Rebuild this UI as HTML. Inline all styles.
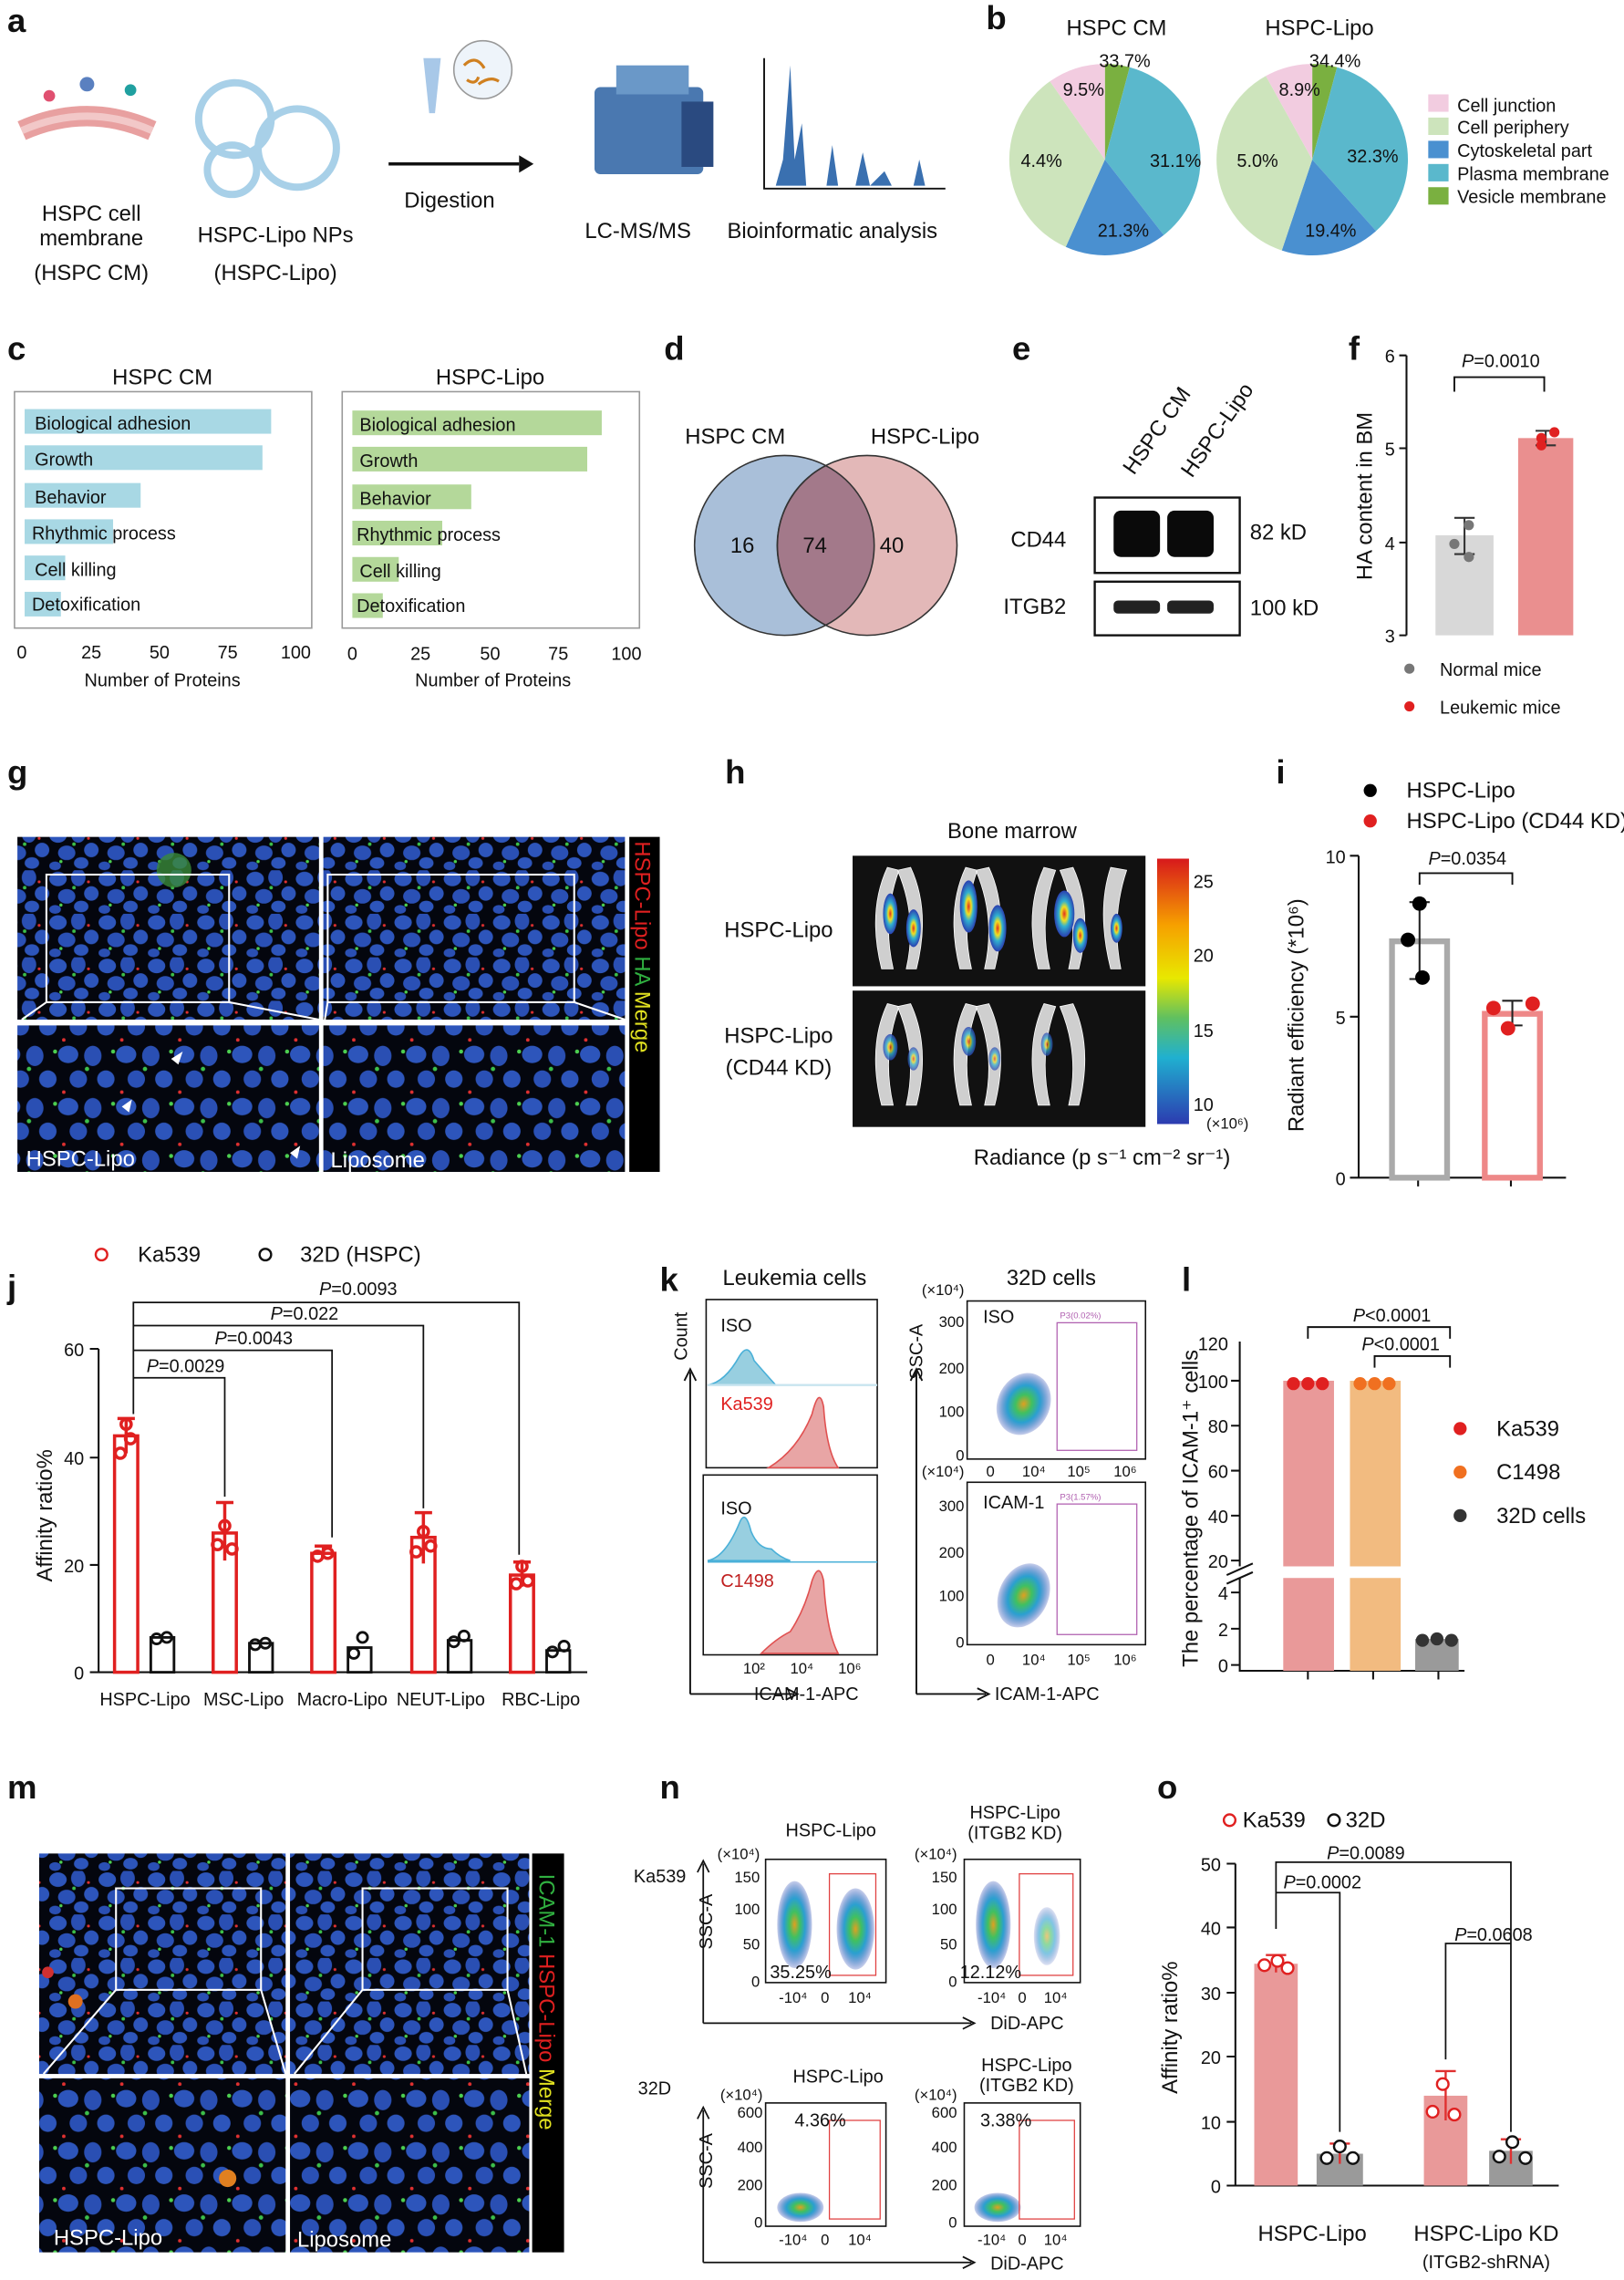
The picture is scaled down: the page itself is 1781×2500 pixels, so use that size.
<!DOCTYPE html>
<html><head><meta charset="utf-8"><style>
html,body{margin:0;padding:0;background:#fff}
svg{display:block}
text{font-family:"Liberation Sans",Arial,sans-serif;fill:#111}
.L{font-size:23px;font-weight:bold}
.t{font-size:15px}
.s{font-size:12.5px}
.xs{font-size:10.5px}
</style></head><body>
<svg width="1781" height="2500" viewBox="0 0 1120 1572" xmlns="http://www.w3.org/2000/svg">
<defs>
<pattern id="cells" width="34" height="30" patternUnits="userSpaceOnUse">
<rect width="34" height="30" fill="#04060e"/>
<ellipse cx="6" cy="6" rx="6" ry="5" fill="#2d55bb"/><ellipse cx="20" cy="5" rx="5" ry="6" fill="#2a4fb3"/>
<ellipse cx="29" cy="16" rx="5" ry="5" fill="#2d55bb"/><ellipse cx="12" cy="18" rx="6" ry="5" fill="#2a50b5"/>
<ellipse cx="22" cy="25" rx="5" ry="4" fill="#2d55bb"/><ellipse cx="4" cy="27" rx="4" ry="3" fill="#2a4fb3"/>
<circle cx="17" cy="12" r="1.2" fill="#3cbf4a"/><circle cx="27" cy="8" r="1" fill="#e03030"/><circle cx="8" cy="24" r="1.1" fill="#4ccf50"/>
</pattern>
<pattern id="cells2" width="40" height="36" patternUnits="userSpaceOnUse">
<rect width="40" height="36" fill="#04060e"/>
<ellipse cx="7" cy="7" rx="7" ry="6" fill="#2d55bb"/><ellipse cx="24" cy="8" rx="6" ry="7" fill="#2a4fb3"/>
<ellipse cx="33" cy="24" rx="6" ry="6" fill="#2d55bb"/><ellipse cx="14" cy="24" rx="6" ry="6" fill="#2a50b5"/>
<circle cx="20" cy="17" r="1.5" fill="#3cbf4a"/><circle cx="4" cy="33" r="1.2" fill="#e03030"/><circle cx="38" cy="5" r="1.4" fill="#4ccf50"/>
</pattern>
<linearGradient id="cbar" x1="0" y1="0" x2="0" y2="1">
<stop offset="0" stop-color="#d7191c"/><stop offset=".25" stop-color="#f6a000"/><stop offset=".45" stop-color="#e8e800"/><stop offset=".6" stop-color="#60c060"/><stop offset=".75" stop-color="#20b0d0"/><stop offset="1" stop-color="#2c3bb0"/>
</linearGradient>
<radialGradient id="dots"><stop offset="0" stop-color="#e0a020"/><stop offset=".3" stop-color="#40c060"/><stop offset=".6" stop-color="#2aa0d0"/><stop offset="1" stop-color="#2040b0" stop-opacity=".25"/></radialGradient>
<radialGradient id="bone"><stop offset="0" stop-color="#e03020"/><stop offset=".3" stop-color="#f0e020"/><stop offset=".55" stop-color="#30b0d0"/><stop offset="1" stop-color="#2a40b0"/></radialGradient>
</defs>

<!-- a -->
<text class="L" x="5" y="22">a</text>
<path d="M15 90 Q60 70 105 90" stroke="#e8a0a0" stroke-width="14" fill="none"/>
<path d="M15 90 Q60 70 105 90" stroke="#f2c8c8" stroke-width="5" fill="none"/>
<circle cx="34" cy="66" r="4" fill="#e05070"/><circle cx="60" cy="58" r="5" fill="#5a80c0"/><circle cx="90" cy="62" r="4" fill="#20a0a0"/>
<text class="t" x="63" y="152" text-anchor="middle">HSPC cell</text>
<text class="t" x="63" y="169" text-anchor="middle">membrane</text>
<text class="t" x="63" y="193" text-anchor="middle">(HSPC CM)</text>
<circle cx="162" cy="82" r="25" fill="none" stroke="#a8d0e8" stroke-width="5"/>
<circle cx="205" cy="102" r="27" fill="none" stroke="#a8d0e8" stroke-width="5"/>
<circle cx="160" cy="117" r="17" fill="none" stroke="#a8d0e8" stroke-width="5"/>
<text class="t" x="190" y="167" text-anchor="middle">HSPC-Lipo NPs</text>
<text class="t" x="190" y="193" text-anchor="middle">(HSPC-Lipo)</text>
<path d="M292 40 l12 0 l-4 38 l-4 0z" fill="#a8c8e8"/>
<circle cx="333" cy="48" r="20" fill="#eef4fa" stroke="#999"/>
<path d="M320 45 q8 -8 14 2 M330 58 q8 -6 14 -2 M322 55 q6 4 8 -2" stroke="#d08020" stroke-width="2" fill="none"/>
<path d="M268 113 L358 113" stroke="#111" stroke-width="2.2"/><path d="M358 107 L368 113 L358 119z" fill="#111"/>
<text class="t" x="310" y="143" text-anchor="middle">Digestion</text>
<rect x="410" y="60" width="75" height="60" rx="4" fill="#4a78b0"/><rect x="425" y="45" width="50" height="20" fill="#6a98c8"/><rect x="470" y="70" width="22" height="45" fill="#2a4a80"/>
<text class="t" x="440" y="164" text-anchor="middle">LC-MS/MS</text>
<path d="M527 40 L527 130 L652 130" stroke="#111" fill="none" stroke-width="1.2"/>
<path d="M535 128 L540 110 L545 45 L548 110 L553 85 L556 128 L570 128 L574 100 L578 128 L590 128 L595 105 L600 128 L610 118 L615 128 L630 128 L634 110 L638 128z" fill="#3a70b0"/>
<text class="t" x="574" y="164" text-anchor="middle">Bioinformatic analysis</text>

<!-- b -->
<text class="L" x="680" y="20">b</text>
<text class="t" x="770" y="24" text-anchor="middle" font-size="16">HSPC CM</text>
<text class="t" x="910" y="24" text-anchor="middle" font-size="16">HSPC-Lipo</text>
<g transform="translate(762,110)">
<path d="M0 0 L0 -66 A66 66 0 0 1 17.1 -63.7z" fill="#7ab040"/>
<path d="M0 0 L17.1 -63.7 A66 66 0 0 1 40.6 52z" fill="#5ab8cc"/>
<path d="M0 0 L40.6 52 A66 66 0 0 1 -27 60.2z" fill="#4a90d0"/>
<path d="M0 0 L-27 60.2 A66 66 0 0 1 -37.9 -54z" fill="#cde4bc"/>
<path d="M0 0 L-37.9 -54 A66 66 0 0 1 0 -66z" fill="#f2cce0"/>
</g>
<g transform="translate(905,110)">
<path d="M0 0 L0 -66 A66 66 0 0 1 17.1 -63.7z" fill="#7ab040"/>
<path d="M0 0 L17.1 -63.7 A66 66 0 0 1 44 49.2z" fill="#5ab8cc"/>
<path d="M0 0 L44 49.2 A66 66 0 0 1 -21 62.6z" fill="#4a90d0"/>
<path d="M0 0 L-21 62.6 A66 66 0 0 1 -32 -57.7z" fill="#cde4bc"/>
<path d="M0 0 L-32 -57.7 A66 66 0 0 1 0 -66z" fill="#f2cce0"/>
</g>
<g class="s"><text x="758" y="46">33.7%</text><text x="733" y="66">9.5%</text><text x="704" y="115">4.4%</text><text x="793" y="115">31.1%</text><text x="757" y="163">21.3%</text>
<text x="903" y="46">34.4%</text><text x="882" y="66">8.9%</text><text x="853" y="115">5.0%</text><text x="929" y="112">32.3%</text><text x="900" y="163">19.4%</text></g>
<g class="s"><rect x="985" y="65" width="14" height="12" fill="#f2cce0"/><text x="1005" y="77">Cell junction</text>
<rect x="985" y="81" width="14" height="12" fill="#cde4bc"/><text x="1005" y="92">Cell periphery</text>
<rect x="985" y="97" width="14" height="12" fill="#4a90d0"/><text x="1005" y="108">Cytoskeletal part</text>
<rect x="985" y="113" width="14" height="12" fill="#5ab8cc"/><text x="1005" y="124">Plasma membrane</text>
<rect x="985" y="129" width="14" height="12" fill="#7ab040"/><text x="1005" y="140">Vesicle membrane</text></g>

<!-- c -->
<text class="L" x="5" y="248">c</text>
<text class="t" x="112" y="265" text-anchor="middle" font-size="16">HSPC CM</text>
<text class="t" x="338" y="265" text-anchor="middle" font-size="16">HSPC-Lipo</text>
<rect x="10" y="270" width="205" height="163" fill="none" stroke="#999"/>
<rect x="236" y="270" width="205" height="163" fill="none" stroke="#999"/>
<g fill="#a8d8e4"><rect x="17" y="282" width="170" height="17"/><rect x="17" y="307" width="164" height="17"/><rect x="17" y="333" width="80" height="17"/><rect x="17" y="358" width="61" height="17"/><rect x="17" y="383" width="28" height="17"/><rect x="17" y="408" width="25" height="17"/></g>
<g fill="#b4d89a"><rect x="243" y="283" width="172" height="17"/><rect x="243" y="308" width="162" height="17"/><rect x="243" y="334" width="82" height="17"/><rect x="243" y="359" width="62" height="17"/><rect x="243" y="384" width="32" height="17"/><rect x="243" y="409" width="21" height="17"/></g>
<g class="s"><text x="24" y="296">Biological adhesion</text><text x="24" y="321">Growth</text><text x="24" y="347">Behavior</text><text x="22" y="372">Rhythmic process</text><text x="24" y="397">Cell killing</text><text x="22" y="421">Detoxification</text>
<text x="248" y="297">Biological adhesion</text><text x="248" y="322">Growth</text><text x="248" y="348">Behavior</text><text x="246" y="373">Rhythmic process</text><text x="248" y="398">Cell killing</text><text x="246" y="422">Detoxification</text></g>
<g class="s" text-anchor="middle"><text x="15" y="454">0</text><text x="63" y="454">25</text><text x="110" y="454">50</text><text x="157" y="454">75</text><text x="204" y="454">100</text>
<text x="243" y="455">0</text><text x="290" y="455">25</text><text x="338" y="455">50</text><text x="385" y="455">75</text><text x="432" y="455">100</text>
<text x="112" y="473">Number of Proteins</text><text x="340" y="473">Number of Proteins</text></g>

<!-- d -->
<text class="L" x="458" y="248">d</text>
<text class="t" x="507" y="306" text-anchor="middle" font-size="16">HSPC CM</text>
<text class="t" x="638" y="306" text-anchor="middle" font-size="16">HSPC-Lipo</text>
<circle cx="541" cy="376" r="62" fill="#a9bfd9" stroke="#333"/>
<circle cx="598" cy="376" r="62" fill="#e3b8b8" stroke="#333"/>
<path d="M569.5 321 A62 62 0 0 1 569.5 431 A62 62 0 0 1 569.5 321z" fill="#a3798a" stroke="#333"/>
<g class="t" text-anchor="middle"><text x="512" y="381">16</text><text x="562" y="381">74</text><text x="615" y="381">40</text></g>

<!-- e -->
<text class="L" x="698" y="248">e</text>
<text class="t" transform="translate(782,328) rotate(-55)">HSPC CM</text>
<text class="t" transform="translate(822,330) rotate(-55)">HSPC-Lipo</text>
<rect x="755" y="343" width="100" height="52" fill="#fff" stroke="#111" stroke-width="1.5"/>
<rect x="768" y="352" width="32" height="32" rx="5" fill="#0a0a0a"/><rect x="805" y="352" width="32" height="32" rx="5" fill="#0a0a0a"/>
<rect x="755" y="401" width="100" height="37" fill="#fff" stroke="#111" stroke-width="1.5"/>
<rect x="768" y="414" width="32" height="9" rx="3" fill="#222"/><rect x="805" y="414" width="32" height="9" rx="3" fill="#222"/>
<text class="t" x="697" y="377" font-size="16">CD44</text><text class="t" x="692" y="423" font-size="16">ITGB2</text>
<text class="t" x="862" y="372">82 kD</text><text class="t" x="862" y="424">100 kD</text>

<!-- f -->
<text class="L" x="930" y="248">f</text>
<path d="M970 245 V438 M965 245 H970 M965 309 H970 M965 374 H970 M965 438 H970" stroke="#111" stroke-width="1.3" fill="none"/>
<g class="s" text-anchor="end"><text x="962" y="250">6</text><text x="962" y="314">5</text><text x="962" y="379">4</text><text x="962" y="443">3</text></g>
<text class="t" transform="translate(946,342) rotate(-90)" text-anchor="middle">HA content in BM</text>
<rect x="990" y="369" width="40" height="69" fill="#d8d8d8"/>
<rect x="1047" y="302" width="38" height="136" fill="#ea8f8f"/>
<path d="M1010 357 V382 M1003 357 H1017 M1003 382 H1017 M1066 297 V307 M1059 297 H1073 M1059 307 H1073" stroke="#333" stroke-width="1.3"/>
<circle cx="1013" cy="362" r="3.5" fill="#777"/><circle cx="1003" cy="375" r="3.5" fill="#777"/><circle cx="1013" cy="384" r="3.5" fill="#777"/>
<circle cx="1063" cy="302" r="3.5" fill="#e02020"/><circle cx="1072" cy="298" r="3.5" fill="#e02020"/><circle cx="1063" cy="307" r="3.5" fill="#e02020"/>
<path d="M1003 270 V260 H1065 V270" stroke="#111" fill="none" stroke-width="1.2"/>
<text class="s" x="1035" y="253" text-anchor="middle"><tspan font-style="italic">P</tspan>=0.0010</text>
<circle cx="972" cy="461" r="3.5" fill="#777"/><text class="s" x="993" y="466">Normal mice</text>
<circle cx="972" cy="487" r="3.5" fill="#e02020"/><text class="s" x="993" y="492">Leukemic mice</text>

<!-- g -->
<text class="L" x="5" y="540">g</text>
<rect x="12" y="577" width="208" height="126" fill="url(#cells)"/>
<rect x="223" y="577" width="208" height="126" fill="url(#cells)"/>
<rect x="12" y="707" width="208" height="101" fill="url(#cells2)"/>
<rect x="223" y="707" width="208" height="101" fill="url(#cells2)"/>
<circle cx="120" cy="600" r="12" fill="#3a8a3a" opacity=".8"/>
<rect x="32" y="603" width="126" height="88" fill="none" stroke="#fff" stroke-width="1.3"/>
<rect x="226" y="603" width="170" height="88" fill="none" stroke="#fff" stroke-width="1.3"/>
<path d="M32 691 L15 703 M158 691 L220 703 M226 691 L224 703 M396 691 L431 703" stroke="#fff" stroke-width="1.3"/>
<path d="M118 730 l8 -5 l-3 9z M84 763 l7 -5 l-2 9z M200 795 l7 -5 l-2 9z" fill="#fff"/>
<text class="t" x="18" y="804" style="fill:#fff">HSPC-Lipo</text><text class="t" x="228" y="805" style="fill:#fff">Liposome</text>
<rect x="434" y="577" width="21" height="231" fill="#000"/>
<text class="t" transform="translate(438,580) rotate(90)" font-size="16"><tspan style="fill:#e02020">HSPC-Lipo </tspan><tspan style="fill:#30b040">HA </tspan><tspan style="fill:#e0e020">Merge</tspan></text>

<!-- h -->
<text class="L" x="500" y="540">h</text>
<text class="t" x="698" y="578" text-anchor="middle" font-size="16">Bone marrow</text>
<rect x="588" y="590" width="202" height="90" fill="#111"/>
<rect x="588" y="683" width="202" height="94" fill="#111"/>
<g fill="#cfcfcf" stroke="#fff" stroke-width=".5">
<path d="M612 598 q-14 30 -4 70 l8 0 q-8 -35 4 -68z M628 598 q14 30 4 70 l-7 0 q8 -35 -6 -68z M666 598 q-14 30 -4 70 l8 0 q-8 -35 4 -68z M682 598 q14 30 4 70 l-7 0 q8 -35 -6 -68z M720 598 q-14 30 -4 70 l8 0 q-8 -35 4 -68z M740 598 q14 30 4 70 l-7 0 q8 -35 -6 -68z M766 598 q-10 30 0 70 l7 0 q-7 -35 4 -68z"/>
<path d="M612 692 q-14 30 -4 70 l8 0 q-8 -35 4 -68z M628 692 q14 30 4 70 l-7 0 q8 -35 -6 -68z M666 692 q-14 30 -4 70 l8 0 q-8 -35 4 -68z M682 692 q14 30 4 70 l-7 0 q8 -35 -6 -68z M720 692 q-14 30 -4 70 l8 0 q-8 -35 4 -68z M740 692 q14 30 4 70 l-7 0 q8 -35 -6 -68z"/>
</g>
<g fill="url(#bone)"><ellipse cx="614" cy="630" rx="5" ry="14"/><ellipse cx="630" cy="640" rx="5" ry="13"/><ellipse cx="668" cy="625" rx="6" ry="18"/><ellipse cx="688" cy="640" rx="6" ry="16"/><ellipse cx="734" cy="630" rx="7" ry="16"/><ellipse cx="745" cy="645" rx="5" ry="12"/><ellipse cx="770" cy="640" rx="4" ry="10"/>
<ellipse cx="614" cy="722" rx="5" ry="9" opacity=".8"/><ellipse cx="630" cy="730" rx="4" ry="8" opacity=".7"/><ellipse cx="668" cy="718" rx="5" ry="10" opacity=".8"/><ellipse cx="686" cy="730" rx="4" ry="8" opacity=".7"/><ellipse cx="722" cy="720" rx="4" ry="8" opacity=".7"/></g>
<text class="t" x="537" y="646" text-anchor="middle" font-size="16">HSPC-Lipo</text>
<text class="t" x="537" y="719" text-anchor="middle" font-size="16">HSPC-Lipo</text>
<text class="t" x="537" y="741" text-anchor="middle" font-size="16">(CD44 KD)</text>
<rect x="798" y="592" width="22" height="183" fill="url(#cbar)"/>
<g class="s"><text x="823" y="612">25</text><text x="823" y="663">20</text><text x="823" y="715">15</text><text x="823" y="766">10</text><text x="832" y="778" class="xs">(×10⁶)</text></g>
<text class="t" x="760" y="803" text-anchor="middle">Radiance (p s⁻¹ cm⁻² sr⁻¹)</text>

<!-- i -->
<text class="L" x="880" y="540">i</text>
<circle cx="945" cy="545" r="4.5" fill="#000"/><text class="t" x="970" y="550" font-size="14">HSPC-Lipo</text>
<circle cx="945" cy="566" r="4.5" fill="#e02020"/><text class="t" x="970" y="571" font-size="14">HSPC-Lipo (CD44 KD)</text>
<path d="M937 590 V812 M931 590 H937 M931 701 H937 M931 812 H937 M937 812 H1080 M978 812 v6 M1042 812 v6" stroke="#111" stroke-width="1.3" fill="none"/>
<g class="s" text-anchor="end"><text x="928" y="595">10</text><text x="928" y="706">5</text><text x="928" y="817">0</text></g>
<text class="t" transform="translate(899,700) rotate(-90)" text-anchor="middle" font-size="16">Radiant efficiency (*10⁶)</text>
<rect x="960" y="649" width="38" height="163" fill="none" stroke="#aaa" stroke-width="4"/>
<rect x="1024" y="699" width="38" height="113" fill="none" stroke="#e88" stroke-width="4"/>
<path d="M979 622 V675 M972 622 H986 M972 675 H986 M1043 690 V707 M1036 690 H1050 M1036 707 H1050" stroke="#222" stroke-width="1.3"/>
<circle cx="979" cy="623" r="5" fill="#000"/><circle cx="971" cy="648" r="5" fill="#000"/><circle cx="981" cy="674" r="5" fill="#000"/>
<circle cx="1040" cy="709" r="5" fill="#e02020"/><circle cx="1030" cy="695" r="5" fill="#e02020"/><circle cx="1057" cy="692" r="5" fill="#e02020"/>
<path d="M979 610 V602 H1043 V610" stroke="#111" fill="none" stroke-width="1.2"/>
<text class="s" x="1012" y="596" text-anchor="middle"><tspan font-style="italic">P</tspan>=0.0354</text>

<!-- j -->
<text class="L" x="5" y="895">j</text>
<circle cx="70" cy="865" r="4" fill="none" stroke="#e02020" stroke-width="1.5"/><text class="t" x="95" y="870">Ka539</text>
<circle cx="183" cy="865" r="4" fill="none" stroke="#111" stroke-width="1.5"/><text class="t" x="207" y="870">32D (HSPC)</text>
<path d="M68 930 V1153 H405 M62 930 H68 M62 1005 H68 M62 1079 H68 M62 1153 H68" stroke="#111" stroke-width="1.3" fill="none"/>
<g class="s" text-anchor="end"><text x="58" y="935">60</text><text x="58" y="1010">40</text><text x="58" y="1084">20</text><text x="58" y="1158">0</text></g>
<text class="t" transform="translate(36,1045) rotate(-90)" text-anchor="middle">Affinity ratio%</text>
<g fill="none" stroke="#e02020" stroke-width="2.2">
<rect x="79" y="990" width="16" height="163"/><rect x="147" y="1057" width="16" height="96"/><rect x="215" y="1071" width="16" height="82"/><rect x="284" y="1060" width="16" height="93"/><rect x="352" y="1086" width="16" height="67"/>
<path d="M87 978 V1002 M81 978 H93 M155 1036 V1076 M149 1036 H161 M223 1066 V1075 M217 1066 H229 M292 1043 V1078 M286 1043 H298 M360 1077 V1094 M354 1077 H366"/>
<circle cx="87" cy="982" r="3.5"/><circle cx="83" cy="1002" r="3.5"/><circle cx="90" cy="992" r="3.5"/>
<circle cx="155" cy="1052" r="3.5"/><circle cx="150" cy="1065" r="3.5"/><circle cx="160" cy="1068" r="3.5"/>
<circle cx="219" cy="1073" r="3.5"/><circle cx="226" cy="1071" r="3.5"/>
<circle cx="292" cy="1056" r="3.5"/><circle cx="287" cy="1070" r="3.5"/><circle cx="297" cy="1066" r="3.5"/>
<circle cx="360" cy="1080" r="3.5"/><circle cx="356" cy="1092" r="3.5"/><circle cx="364" cy="1090" r="3.5"/></g>
<g fill="none" stroke="#111" stroke-width="1.8">
<rect x="104" y="1129" width="16" height="24"/><rect x="172" y="1133" width="16" height="20"/><rect x="240" y="1136" width="16" height="17"/><rect x="309" y="1131" width="16" height="22"/><rect x="377" y="1138" width="16" height="15"/>
<circle cx="108" cy="1130" r="3.5"/><circle cx="115" cy="1129" r="3.5"/><circle cx="176" cy="1134" r="3.5"/><circle cx="183" cy="1133" r="3.5"/><circle cx="244" cy="1140" r="3.5"/><circle cx="250" cy="1129" r="3.5"/><circle cx="313" cy="1132" r="3.5"/><circle cx="320" cy="1128" r="3.5"/><circle cx="381" cy="1139" r="3.5"/><circle cx="389" cy="1135" r="3.5"/></g>
<path d="M92 975 V898 H358 V1072 M92 914 H292 V1040 M92 931 H229 V1060 M92 950 H155 V1032" stroke="#111" fill="none" stroke-width="1.1"/>
<g class="s" text-anchor="middle"><text x="247" y="893"><tspan font-style="italic">P</tspan>=0.0093</text><text x="210" y="910"><tspan font-style="italic">P</tspan>=0.022</text><text x="175" y="927"><tspan font-style="italic">P</tspan>=0.0043</text><text x="128" y="946"><tspan font-style="italic">P</tspan>=0.0029</text>
<text x="100" y="1176">HSPC-Lipo</text><text x="168" y="1176">MSC-Lipo</text><text x="236" y="1176">Macro-Lipo</text><text x="304" y="1176">NEUT-Lipo</text><text x="373" y="1176">RBC-Lipo</text></g>

<!-- k -->
<text class="L" x="455" y="890">k</text>
<text class="t" x="548" y="886" text-anchor="middle">Leukemia cells</text>
<text class="t" x="725" y="886" text-anchor="middle">32D cells</text>
<text class="s" transform="translate(474,938) rotate(-90)">Count</text>
<path d="M476 1168 V946 M472 952 L476 944 L480 952" stroke="#111" fill="none" stroke-width="1.2"/>
<path d="M476 1168 H548 M542 1164 L550 1168 L542 1172" stroke="#111" fill="none" stroke-width="1.2"/>
<text class="s" x="520" y="1172">ICAM-1-APC</text>
<rect x="487" y="896" width="118" height="116" fill="none" stroke="#111"/>
<rect x="485" y="1017" width="120" height="124" fill="none" stroke="#111"/>
<path d="M488 955 Q500 953 510 935 Q516 925 520 938 Q526 945 535 955z" fill="#98cfe0" stroke="#4ab0d8"/>
<path d="M488 955 H605" stroke="#c8e4ef" stroke-width="1.5"/>
<path d="M530 1012 Q550 1000 560 975 Q565 955 568 970 Q570 1000 578 1012z" fill="#e8a5a5" stroke="#e05050"/>
<path d="M488 1076 Q500 1074 510 1050 Q514 1040 518 1056 Q523 1068 532 1068 Q538 1074 545 1076z" fill="#98cfe0" stroke="#4ab0d8"/>
<path d="M488 1077 H605" stroke="#4ab0d8" stroke-width="1"/>
<path d="M525 1140 Q535 1130 545 1125 Q555 1110 560 1090 Q565 1076 568 1090 Q570 1125 578 1140z" fill="#e8a5a5" stroke="#e05050"/>
<g class="s"><text x="497" y="918">ISO</text><text x="497" y="972" style="fill:#e02020">Ka539</text><text x="497" y="1044">ISO</text><text x="497" y="1094" style="fill:#c02020">C1498</text></g>
<g class="xs" text-anchor="middle"><text x="520" y="1154">10²</text><text x="553" y="1154">10⁴</text><text x="586" y="1154">10⁶</text></g>
<rect x="667" y="897" width="123" height="109" fill="none" stroke="#111"/>
<rect x="667" y="1022" width="123" height="112" fill="none" stroke="#111"/>
<ellipse cx="706" cy="968" rx="18" ry="22" fill="url(#dots)" transform="rotate(25 706 968)"/>
<ellipse cx="706" cy="1100" rx="17" ry="23" fill="url(#dots)" transform="rotate(25 706 1100)"/>
<rect x="729" y="912" width="55" height="88" fill="none" stroke="#b060b0" stroke-width=".8"/>
<rect x="729" y="1037" width="55" height="90" fill="none" stroke="#b060b0" stroke-width=".8"/>
<g font-size="6"><text x="731" y="909" style="fill:#b060b0">P3(0.02%)</text><text x="731" y="1034" style="fill:#b060b0">P3(1.57%)</text></g>
<g class="s"><text x="678" y="912">ISO</text><text x="678" y="1040">ICAM-1</text></g>
<g class="xs" text-anchor="end"><text x="665" y="915">300</text><text x="665" y="947">200</text><text x="665" y="977">100</text><text x="665" y="1007">0</text>
<text x="665" y="1042">300</text><text x="665" y="1074">200</text><text x="665" y="1104">100</text><text x="665" y="1136">0</text>
<text x="665" y="893">(×10⁴)</text><text x="665" y="1018">(×10⁴)</text></g>
<g class="xs" text-anchor="middle"><text x="683" y="1018">0</text><text x="713" y="1018">10⁴</text><text x="744" y="1018">10⁵</text><text x="776" y="1018">10⁶</text>
<text x="683" y="1148">0</text><text x="713" y="1148">10⁴</text><text x="744" y="1148">10⁵</text><text x="776" y="1148">10⁶</text></g>
<text class="s" transform="translate(636,932) rotate(-90)" text-anchor="middle">SSC-A</text>
<path d="M632 1168 V946 M628 952 L632 944 L636 952 M632 1168 H680 M674 1164 L682 1168 L674 1172" stroke="#111" fill="none" stroke-width="1.2"/>
<text class="s" x="686" y="1172">ICAM-1-APC</text>

<!-- l -->
<text class="L" x="815" y="890">l</text>
<path d="M855 925 V1080 M855 1088 V1152 H1010 M849 952 H855 M849 983 H855 M849 1014 H855 M849 1045 H855 M849 1076 H855 M849 1098 H855 M849 1123 H855 M849 1148 H855 M902 1152 v6 M947 1152 v6 M992 1152 v6" stroke="#111" stroke-width="1.3" fill="none"/>
<path d="M846 1086 L864 1078 M846 1092 L864 1084" stroke="#111" stroke-width="1.3"/>
<g class="s" text-anchor="end"><text x="847" y="931">120</text><text x="847" y="957">100</text><text x="847" y="988">80</text><text x="847" y="1019">60</text><text x="847" y="1050">40</text><text x="847" y="1081">20</text><text x="847" y="1103">4</text><text x="847" y="1128">2</text><text x="847" y="1153">0</text></g>
<text class="t" transform="translate(826,1040) rotate(-90)" text-anchor="middle" font-size="13.5">The percentage of ICAM-1⁺ cells</text>
<rect x="885" y="952" width="35" height="200" fill="#e99999"/>
<rect x="931" y="952" width="35" height="200" fill="#f2bb80"/>
<rect x="880" y="1080" width="90" height="8" fill="#fff"/>
<rect x="976" y="1130" width="30" height="22" fill="#9a9a9a"/>
<g fill="#e02020"><circle cx="892" cy="954" r="4.5"/><circle cx="902" cy="954" r="4.5"/><circle cx="912" cy="954" r="4.5"/></g>
<g fill="#f07020"><circle cx="938" cy="954" r="4.5"/><circle cx="948" cy="954" r="4.5"/><circle cx="958" cy="954" r="4.5"/></g>
<g fill="#333"><circle cx="981" cy="1131" r="4.5"/><circle cx="991" cy="1130" r="4.5"/><circle cx="1001" cy="1131" r="4.5"/></g>
<path d="M902 923 V915 H1000 V923 M948 943 V935 H1000 V943" stroke="#111" fill="none" stroke-width="1.2"/>
<g class="s" text-anchor="middle"><text x="960" y="911"><tspan font-style="italic">P</tspan>&lt;0.0001</text><text x="966" y="931"><tspan font-style="italic">P</tspan>&lt;0.0001</text></g>
<circle cx="1007" cy="985" r="4.5" fill="#e02020"/><text class="t" x="1032" y="990">Ka539</text>
<circle cx="1007" cy="1015" r="4.5" fill="#f07020"/><text class="t" x="1032" y="1020">C1498</text>
<circle cx="1007" cy="1045" r="4.5" fill="#333"/><text class="t" x="1032" y="1050">32D cells</text>

<!-- m -->
<text class="L" x="5" y="1240">m</text>
<rect x="27" y="1278" width="170" height="152" fill="url(#cells)"/>
<rect x="200" y="1278" width="165" height="152" fill="url(#cells)"/>
<rect x="27" y="1433" width="170" height="120" fill="url(#cells2)"/>
<rect x="200" y="1433" width="165" height="120" fill="url(#cells2)"/>
<rect x="80" y="1302" width="100" height="70" fill="none" stroke="#fff" stroke-width="1.3"/>
<rect x="250" y="1302" width="100" height="70" fill="none" stroke="#fff" stroke-width="1.3"/>
<path d="M80 1372 L30 1430 M180 1372 L197 1430 M250 1372 L203 1430 M350 1372 L363 1430" stroke="#fff" stroke-width="1.3"/>
<circle cx="52" cy="1380" r="5" fill="#e07020"/><circle cx="157" cy="1502" r="6" fill="#e08020"/><circle cx="33" cy="1360" r="4" fill="#d03030"/>
<text class="t" x="37" y="1548" style="fill:#fff">HSPC-Lipo</text><text class="t" x="205" y="1549" style="fill:#fff">Liposome</text>
<rect x="367" y="1278" width="22" height="275" fill="#000"/>
<text class="t" transform="translate(372,1292) rotate(90)" font-size="16"><tspan style="fill:#30b040">ICAM-1 </tspan><tspan style="fill:#e02020">HSPC-Lipo </tspan><tspan style="fill:#e0e020">Merge</tspan></text>

<!-- n -->
<text class="L" x="455" y="1240">n</text>
<text class="s" x="437" y="1298">Ka539</text><text class="s" x="440" y="1444">32D</text>
<g class="s" text-anchor="middle"><text x="573" y="1266">HSPC-Lipo</text><text x="700" y="1254">HSPC-Lipo</text><text x="700" y="1268">(ITGB2 KD)</text>
<text x="578" y="1436">HSPC-Lipo</text><text x="708" y="1428">HSPC-Lipo</text><text x="708" y="1442">(ITGB2 KD)</text></g>
<rect x="528" y="1282" width="83" height="85" fill="none" stroke="#111"/>
<rect x="665" y="1282" width="80" height="85" fill="none" stroke="#111"/>
<rect x="528" y="1450" width="83" height="85" fill="none" stroke="#111"/>
<rect x="665" y="1450" width="80" height="85" fill="none" stroke="#111"/>
<ellipse cx="548" cy="1327" rx="12" ry="30" fill="url(#dots)"/><ellipse cx="590" cy="1330" rx="13" ry="28" fill="url(#dots)"/>
<ellipse cx="685" cy="1327" rx="12" ry="30" fill="url(#dots)"/><ellipse cx="722" cy="1335" rx="9" ry="20" fill="url(#dots)" opacity=".6"/>
<ellipse cx="552" cy="1522" rx="16" ry="10" fill="url(#dots)"/><ellipse cx="688" cy="1522" rx="16" ry="10" fill="url(#dots)"/>
<g fill="none" stroke="#e04040" stroke-width=".8"><rect x="572" y="1292" width="32" height="70"/><rect x="703" y="1292" width="37" height="70"/><rect x="572" y="1462" width="35" height="68"/><rect x="703" y="1462" width="38" height="68"/></g>
<g class="s"><text x="531" y="1364">35.25%</text><text x="662" y="1364">12.12%</text><text x="548" y="1466">4.36%</text><text x="676" y="1466">3.38%</text></g>
<g class="xs" text-anchor="end"><text x="524" y="1282">(×10⁴)</text><text x="524" y="1298">150</text><text x="524" y="1320">100</text><text x="524" y="1344">50</text><text x="524" y="1370">0</text>
<text x="660" y="1282">(×10⁴)</text><text x="660" y="1298">150</text><text x="660" y="1320">100</text><text x="660" y="1344">50</text><text x="660" y="1370">0</text>
<text x="526" y="1448">(×10⁴)</text><text x="526" y="1460">600</text><text x="526" y="1484">400</text><text x="526" y="1510">200</text><text x="526" y="1536">0</text>
<text x="660" y="1448">(×10⁴)</text><text x="660" y="1460">600</text><text x="660" y="1484">400</text><text x="660" y="1510">200</text><text x="660" y="1536">0</text></g>
<g class="xs" text-anchor="middle"><text x="547" y="1381">-10⁴</text><text x="569" y="1381">0</text><text x="593" y="1381">10⁴</text><text x="684" y="1381">-10⁴</text><text x="705" y="1381">0</text><text x="728" y="1381">10⁴</text>
<text x="547" y="1548">-10⁴</text><text x="569" y="1548">0</text><text x="593" y="1548">10⁴</text><text x="684" y="1548">-10⁴</text><text x="705" y="1548">0</text><text x="728" y="1548">10⁴</text></g>
<text class="s" transform="translate(491,1325) rotate(-90)" text-anchor="middle">SSC-A</text>
<text class="s" transform="translate(491,1490) rotate(-90)" text-anchor="middle">SSC-A</text>
<path d="M485 1395 V1285 M481 1291 L485 1283 L489 1291 M485 1395 H670 M664 1391 L672 1395 L664 1399 M485 1560 V1455 M481 1461 L485 1453 L489 1461 M485 1560 H670 M664 1556 L672 1560 L664 1564" stroke="#111" fill="none" stroke-width="1.1"/>
<text class="s" x="683" y="1399">DiD-APC</text><text class="s" x="683" y="1565">DiD-APC</text>

<!-- o -->
<text class="L" x="798" y="1240">o</text>
<circle cx="848" cy="1255" r="4" fill="none" stroke="#e02020" stroke-width="1.5"/><text class="t" x="857" y="1260">Ka539</text>
<circle cx="920" cy="1255" r="4" fill="none" stroke="#111" stroke-width="1.5"/><text class="t" x="928" y="1260">32D</text>
<path d="M852 1285 V1507 H1075 M846 1285 H852 M846 1329 H852 M846 1374 H852 M846 1418 H852 M846 1463 H852 M846 1507 H852" stroke="#111" stroke-width="1.3" fill="none"/>
<g class="s" text-anchor="end"><text x="842" y="1290">50</text><text x="842" y="1334">40</text><text x="842" y="1379">30</text><text x="842" y="1423">20</text><text x="842" y="1468">10</text><text x="842" y="1512">0</text></g>
<text class="t" transform="translate(812,1398) rotate(-90)" text-anchor="middle">Affinity ratio%</text>
<rect x="865" y="1354" width="30" height="153" fill="#e99999"/>
<rect x="908" y="1485" width="32" height="22" fill="#9a9a9a"/>
<rect x="982" y="1445" width="30" height="62" fill="#e99999"/>
<rect x="1027" y="1483" width="30" height="24" fill="#9a9a9a"/>
<path d="M880 1348 V1360 M873 1348 H887 M997 1428 V1462 M990 1428 H1004 M924 1478 V1492 M917 1478 H931 M1042 1475 V1492 M1035 1475 H1049" stroke="#e03030" stroke-width="1.5"/>
<g fill="#fff" stroke="#e02020" stroke-width="1.5"><circle cx="872" cy="1355" r="4"/><circle cx="881" cy="1352" r="4"/><circle cx="888" cy="1357" r="4"/><circle cx="988" cy="1456" r="4"/><circle cx="1003" cy="1458" r="4"/><circle cx="995" cy="1437" r="4"/></g>
<g fill="#fff" stroke="#111" stroke-width="1.5"><circle cx="915" cy="1488" r="4"/><circle cx="924" cy="1480" r="4"/><circle cx="933" cy="1488" r="4"/><circle cx="1034" cy="1487" r="4"/><circle cx="1043" cy="1477" r="4"/><circle cx="1052" cy="1488" r="4"/></g>
<path d="M880 1330 V1284 H1042 V1470 M880 1305 H924 V1470 M997 1420 V1340 H1042 V1470" stroke="#111" fill="none" stroke-width="1.1"/>
<g class="s" text-anchor="middle"><text x="942" y="1282"><tspan font-style="italic">P</tspan>=0.0089</text><text x="912" y="1302"><tspan font-style="italic">P</tspan>=0.0002</text><text x="1030" y="1338"><tspan font-style="italic">P</tspan>=0.0608</text></g>
<text class="t" x="905" y="1545" text-anchor="middle">HSPC-Lipo</text>
<text class="t" x="1025" y="1545" text-anchor="middle">HSPC-Lipo KD</text>
<text class="s" x="1025" y="1564" text-anchor="middle">(ITGB2-shRNA)</text>
</svg>
</body></html>
